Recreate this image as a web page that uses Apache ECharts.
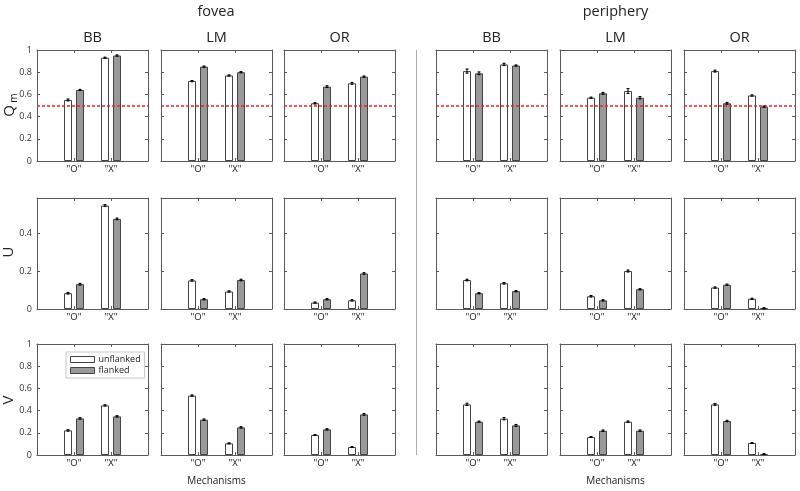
<!DOCTYPE html>
<html>
<head>
<meta charset="utf-8">
<script src="https://cdn.jsdelivr.net/npm/echarts@6/dist/echarts.min.js"></script>
<style>html,body{margin:0;padding:0;background:#fff}#c{width:800px;height:491px}</style>
</head>
<body>
<div id="c"></div>
<script>
// ---- data ----
const categories = ['"O"', '"X"'];
const regions = ['fovea', 'periphery'];
const observers = ['BB', 'LM', 'OR'];
const seriesNames = ['unflanked', 'flanked'];
const measureNames = ['Q', 'U', 'V'];
const measureMax = [1, 0.59, 1];
const tickInterval = 0.2;
const chanceLevel = 0.5;

// panel order: fovea BB, LM, OR, periphery BB, LM, OR ; each [O, X]
const qmUnflanked = [[0.55, 0.93], [0.72, 0.77], [0.52, 0.70], [0.81, 0.87], [0.57, 0.63], [0.81, 0.59]];
const qmFlanked   = [[0.64, 0.95], [0.85, 0.80], [0.67, 0.76], [0.79, 0.86], [0.61, 0.57], [0.52, 0.49]];
const qmUnflankedErr = [[0.008, 0.005], [0.005, 0.005], [0.005, 0.008], [0.018, 0.01], [0.005, 0.022], [0.008, 0.005]];
const qmFlankedErr   = [[0.005, 0.005], [0.005, 0.005], [0.008, 0.005], [0.012, 0.005], [0.008, 0.01], [0.008, 0.005]];

const uUnflanked = [[0.084, 0.55], [0.152, 0.093], [0.034, 0.046], [0.154, 0.137], [0.068, 0.202], [0.114, 0.054]];
const uFlanked   = [[0.132, 0.479], [0.052, 0.154], [0.052, 0.189], [0.084, 0.095], [0.046, 0.105], [0.129, 0.004]];
const uUnflankedErr = [[0.004, 0.005], [0.004, 0.003], [0.003, 0.003], [0.004, 0.004], [0.004, 0.005], [0.003, 0.003]];
const uFlankedErr   = [[0.004, 0.004], [0.003, 0.004], [0.003, 0.004], [0.003, 0.003], [0.003, 0.003], [0.003, 0.003]];

const vUnflanked = [[0.222, 0.447], [0.535, 0.105], [0.18, 0.072], [0.456, 0.327], [0.162, 0.30], [0.456, 0.108]];
const vFlanked   = [[0.33, 0.348], [0.318, 0.249], [0.231, 0.366], [0.30, 0.267], [0.219, 0.219], [0.306, 0.009]];
const vUnflankedErr = [[0.006, 0.005], [0.006, 0.004], [0.004, 0.004], [0.01, 0.01], [0.004, 0.006], [0.008, 0.004]];
const vFlankedErr   = [[0.006, 0.006], [0.006, 0.006], [0.006, 0.008], [0.005, 0.008], [0.006, 0.006], [0.006, 0.004]];

// ---- layout ----
const FONT = 'Open Sans';
const panelLefts = [37, 161, 284, 436, 560, 684];
const rowTops = [50, 198, 344];
const panelW = 111, panelH = 111;
const colCenters = panelLefts.map(l => l + panelW / 2);

const rows = [
  { unf: qmUnflanked, fl: qmFlanked, ue: qmUnflankedErr, fe: qmFlankedErr },
  { unf: uUnflanked, fl: uFlanked, ue: uUnflankedErr, fe: uFlankedErr },
  { unf: vUnflanked, fl: vFlanked, ue: vUnflankedErr, fe: vFlankedErr }
];

const catData = [''].concat(categories, ['']);
const lineCol = '#5a5a5a';
const grid = [], xAxis = [], yAxis = [], series = [];

function errRender(params, api) {
  const c = api.value(0), v = api.value(1), e = api.value(2), side = api.value(3);
  const top = api.coord([c, v + e]);
  const bot = api.coord([c, Math.max(0, v - e)]);
  const x = top[0] + side * 6;
  const cap = 1.5;
  const st = { stroke: '#000', lineWidth: 1 };
  return {
    type: 'group',
    children: [
      { type: 'line', shape: { x1: x, y1: top[1] - 0.5, x2: x, y2: bot[1] + 0.5 }, style: st },
      { type: 'line', shape: { x1: x - cap, y1: top[1], x2: x + cap, y2: top[1] }, style: st },
      { type: 'line', shape: { x1: x - cap, y1: bot[1], x2: x + cap, y2: bot[1] }, style: st }
    ]
  };
}

for (let r = 0; r < 3; r++) {
  for (let c = 0; c < 6; c++) {
    const idx = r * 6 + c;
    grid.push({ left: panelLefts[c], top: rowTops[r], width: panelW, height: panelH });
    const tick = { show: true, inside: true, length: 3, interval: (i) => i === 1 || i === 2, lineStyle: { color: lineCol } };
    xAxis.push({
      gridIndex: idx, type: 'category', data: catData, boundaryGap: false, position: 'bottom',
      axisLine: { show: true, lineStyle: { color: lineCol } },
      axisTick: tick,
      axisLabel: { interval: 0, fontSize: 9.5, fontFamily: FONT, color: '#222', margin: 3 }
    });
    xAxis.push({
      gridIndex: idx, type: 'category', data: catData, boundaryGap: false, position: 'top',
      axisLine: { show: true, onZero: false, lineStyle: { color: lineCol } },
      axisTick: tick, axisLabel: { show: false }
    });
    const yBase = {
      gridIndex: idx, type: 'value', min: 0, max: measureMax[r], interval: tickInterval,
      splitLine: { show: false },
      axisLine: { show: true, onZero: false, lineStyle: { color: lineCol } },
      axisTick: { show: true, inside: true, length: 3, lineStyle: { color: lineCol } }
    };
    yAxis.push(Object.assign({}, yBase, {
      position: 'left',
      axisLabel: { show: c === 0, fontSize: 9, fontFamily: FONT, color: '#333', margin: 5, showMaxLabel: r !== 1 }
    }));
    yAxis.push(Object.assign({}, yBase, { position: 'right', axisLabel: { show: false } }));

    const d = rows[r];
    const unfSeries = {
      name: seriesNames[0], type: 'bar', xAxisIndex: 2 * idx, yAxisIndex: 2 * idx,
      data: ['-', d.unf[c][0], d.unf[c][1], '-'],
      barWidth: 8, barGap: '50%',
      itemStyle: { color: '#ffffff', borderColor: '#444', borderWidth: 1 },
      z: 2
    };
    if (r === 0) {
      unfSeries.markLine = {
        silent: true, symbol: 'none', label: { show: false },
        lineStyle: { color: '#f2202c', type: [3, 2], width: 1.5 },
        data: [{ yAxis: chanceLevel }]
      };
    }
    series.push(unfSeries);
    series.push({
      name: seriesNames[1], type: 'bar', xAxisIndex: 2 * idx, yAxisIndex: 2 * idx,
      data: ['-', d.fl[c][0], d.fl[c][1], '-'],
      barWidth: 8, barGap: '50%',
      itemStyle: { color: '#999999', borderColor: '#444', borderWidth: 1 },
      z: 2
    });
    series.push({
      type: 'custom', xAxisIndex: 2 * idx, yAxisIndex: 2 * idx, z: 5,
      renderItem: errRender,
      encode: { x: 0, y: 1 },
      data: [
        [1, d.unf[c][0], d.ue[c][0], -1], [2, d.unf[c][1], d.ue[c][1], -1],
        [1, d.fl[c][0], d.fe[c][0], 1], [2, d.fl[c][1], d.fe[c][1], 1]
      ]
    });
  }
}

const graphics = [];
function txt(text, x, y, size, extra) {
  graphics.push(Object.assign({
    type: 'text', x: x, y: y,
    style: { text: text, fontSize: size, fontFamily: FONT, fill: '#222', align: 'center', verticalAlign: 'middle' }
  }, extra || {}));
}
// region headers
txt(regions[0], (panelLefts[0] + panelLefts[2] + panelW) / 2, 12, 14.5);
txt(regions[1], (panelLefts[3] + panelLefts[5] + panelW) / 2, 12, 14.5);
// observer titles
for (let c = 0; c < 6; c++) txt(observers[c % 3], colCenters[c], 38, 14.5);
// y names
txt(measureNames[0], 10, 111, 15, { rotation: Math.PI / 2 });
txt('m', 14, 98, 10, { rotation: Math.PI / 2 });
txt(measureNames[1], 9, 252, 15, { rotation: Math.PI / 2 });
txt(measureNames[2], 9, 400, 15, { rotation: Math.PI / 2 });
// x names
txt('Mechanisms', colCenters[1], 481, 10);
txt('Mechanisms', colCenters[4], 481, 10);
// separator
graphics.push({ type: 'line', shape: { x1: 416.5, y1: 50, x2: 416.5, y2: 455 }, style: { stroke: '#b0b0b0', lineWidth: 1 } });

const chart = echarts.init(document.getElementById('c'), null, { renderer: 'canvas' });
chart.setOption({
  animation: false,
  backgroundColor: '#ffffff',
  grid: grid, xAxis: xAxis, yAxis: yAxis, series: series,
  legend: {
    left: 66, top: 352, orient: 'vertical', padding: [3, 4, 3, 4], itemGap: 2,
    itemWidth: 24, itemHeight: 6, icon: 'rect',
    borderColor: '#c8c8c8', borderWidth: 1,
    textStyle: { fontSize: 9, fontFamily: FONT, color: '#222', padding: [0, 0, 0, -1] },
    data: [
      { name: seriesNames[0], itemStyle: { color: '#fff', borderColor: '#444', borderWidth: 1 } },
      { name: seriesNames[1], itemStyle: { color: '#999', borderColor: '#444', borderWidth: 1 } }
    ]
  },
  graphic: graphics
});
</script>
</body>
</html>
